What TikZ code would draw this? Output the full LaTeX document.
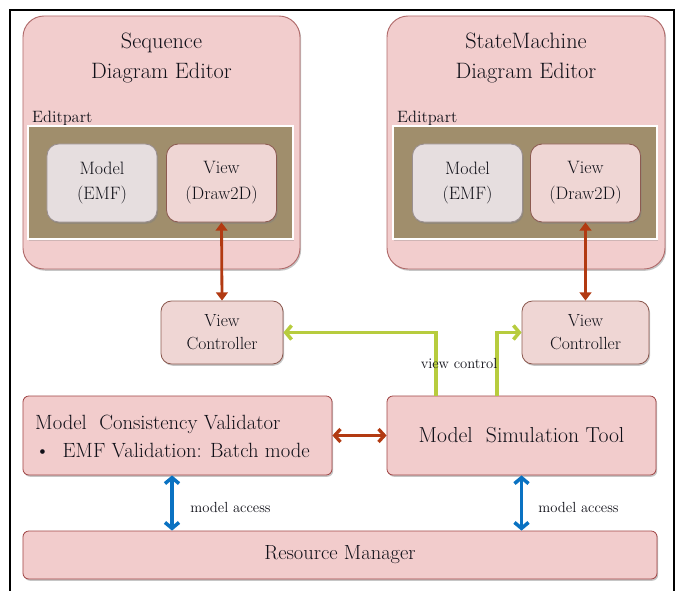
\documentclass[tikz,border=0pt]{standalone}
\usepackage{fontspec}
\usepackage{tikz}
\usetikzlibrary{arrows.meta,shadows}

\definecolor{editfill}{HTML}{F2CDCD}
\definecolor{editline}{HTML}{B06A6A}
\definecolor{partbrown}{HTML}{A08E6C}
\definecolor{modelfill}{HTML}{E6DEDF}
\definecolor{modelline}{HTML}{9A8F90}
\definecolor{viewfill}{HTML}{EFD6D4}
\definecolor{viewline}{HTML}{8C5A50}
\definecolor{toolfill}{HTML}{F2CCCC}
\definecolor{toolline}{HTML}{A04545}
\definecolor{inkblue}{HTML}{101018}
\definecolor{linkred}{HTML}{B23A12}
\definecolor{ctrlgreen}{HTML}{B7CC3E}
\definecolor{accblue}{HTML}{0A72C2}

\tikzset{
	shade box/.style={drop shadow={opacity=0.45, shadow xshift=1pt, shadow yshift=-1.5pt}},
	editor/.style={draw=editline, fill=editfill, line width=0.8pt, rounded corners=18pt, shade box, inner sep=0pt},
	editpart/.style={draw=white, fill=partbrown, line width=2.5pt, inner sep=0pt, drop shadow={opacity=0.3, shadow xshift=1pt, shadow yshift=-1.5pt}},
	subbox/.style={line width=0.7pt, rounded corners=10pt, shade box, align=center, text=inkblue,
		minimum width=3.3cm, minimum height=2.34cm, font=\fontsize{15.3}{22}\selectfont},
	modelbox/.style={subbox, draw=modelline, fill=modelfill},
	viewbox/.style={subbox, draw=viewline, fill=viewfill},
	ctrlbox/.style={draw=viewline, fill=viewfill, line width=0.7pt, rounded corners=9pt, shade box, align=center, text=inkblue,
		minimum height=1.89cm, font=\fontsize{15}{19.5}\selectfont},
	toolbox/.style={draw=toolline, fill=toolfill, line width=0.7pt, rounded corners=5pt, shade box, text=inkblue,
		font=\fontsize{18.5}{24}\selectfont},
	toollines/.style={anchor=west, align=left, inner sep=0pt, text=inkblue, font=\fontsize{17.6}{25}\selectfont},
	title/.style={align=center, text=inkblue, font=\fontsize{19}{25}\selectfont},
	partlabel/.style={anchor=west, inner sep=0pt, text=inkblue, font=\fontsize{14}{16}\selectfont},
	note/.style={inner sep=1pt, text=inkblue, font=\fontsize{12.5}{14}\selectfont},
	link/.style={draw=linkred, line width=2.4pt, {Triangle[length=7pt,width=10pt]}-{Triangle[length=7pt,width=10pt]}},
	sidelink/.style={draw=linkred, line width=2.8pt, {Straight Barb[length=5pt,width=11pt]}-{Straight Barb[length=5pt,width=11pt]}},
	ctrl/.style={draw=ctrlgreen, line width=3pt, -{Straight Barb[length=5pt,width=12pt]}},
	access/.style={draw=accblue, line width=3pt, {Straight Barb[length=5pt,width=12pt]}-{Straight Barb[length=5pt,width=12pt]}}
}

\begin{document}
\begin{tikzpicture}[x=0.03cm, y=-0.03cm]
	% page and frame
	\useasboundingbox (0,0) rectangle (681,590);
	\draw[line width=1.5pt] (10,600) -- (10,10) -- (674,10) -- (674,600);
	% Sequence editor
	\node[editor, minimum width=8.31cm, minimum height=7.59cm](SeqEd) at (161.5,142.5){};
	\node[title](SeqTitle) at (161.5,58){Sequence\\Diagram Editor};
	\node[partlabel](SeqPartL) at (32,118){Editpart};
	\node[editpart, minimum width=7.95cm, minimum height=3.39cm](SeqPart) at (160.5,182.5){};
	\node[modelbox](SeqModel) at (102,183){Model\\(EMF)};
	\node[viewbox](SeqView) at (221.5,183){View\\(Draw2D)};
	% StateMachine editor
	\node[editor, minimum width=8.34cm, minimum height=7.59cm](StmEd) at (526,142.5){};
	\node[title](StmTitle) at (526,58){StateMachine\\Diagram Editor};
	\node[partlabel](StmPartL) at (397,118){Editpart};
	\node[editpart, minimum width=7.92cm, minimum height=3.39cm](StmPart) at (525,182.5){};
	\node[modelbox](StmModel) at (467.5,183){Model\\(EMF)};
	\node[viewbox](StmView) at (585.5,183){View\\(Draw2D)};
	% controllers
	\node[ctrlbox, minimum width=3.66cm](LeftVC) at (222,332.5){View\\Controller};
	\node[ctrlbox, minimum width=3.81cm](RightVC) at (585.5,332.5){View\\Controller};
	% tools
	\node[toolbox, minimum width=9.27cm, minimum height=2.37cm](MCV) at (177.5,435.5){};
	\node[toollines](MCVText) at (35,436.5){Model\ \ Consistency Validator\\[-1pt]%
		\textbullet\ \ EMF Validation: Batch mode};
	\node[toolbox, minimum width=8.07cm, minimum height=2.37cm](MST) at (521.5,435.5){Model\ \ Simulation Tool};
	\node[toolbox, minimum width=19.02cm, minimum height=1.44cm, font=\fontsize{17.5}{24}\selectfont](RM) at (340,555){Resource Manager};
	% connectors
	\draw[link] (SeqView.south) -- (LeftVC.north);
	\draw[link] (StmView.south) -- (RightVC.north);
	\draw[sidelink] (MCV.east) -- (MST.west);
	\draw[ctrl] ([xshift=-2.565cm]MST.north) |- (LeftVC.east);
	\draw[ctrl] ([xshift=-0.735cm]MST.north) |- (RightVC.west);
	\node[note](VCtrl) at (459,363){view control};
	\coordinate (Acc1) at ([xshift=-0.165cm]MCV.south);
	\coordinate (Acc2) at (MST.south);
	\draw[access] (Acc1) -- (Acc1 |- RM.north);
	\draw[access] (Acc2) -- (Acc2 |- RM.north);
	\node[note, anchor=west](Acc1L) at (189,507){model access};
	\node[note, anchor=west](Acc2L) at (537,507){model access};
\end{tikzpicture}
\end{document}
